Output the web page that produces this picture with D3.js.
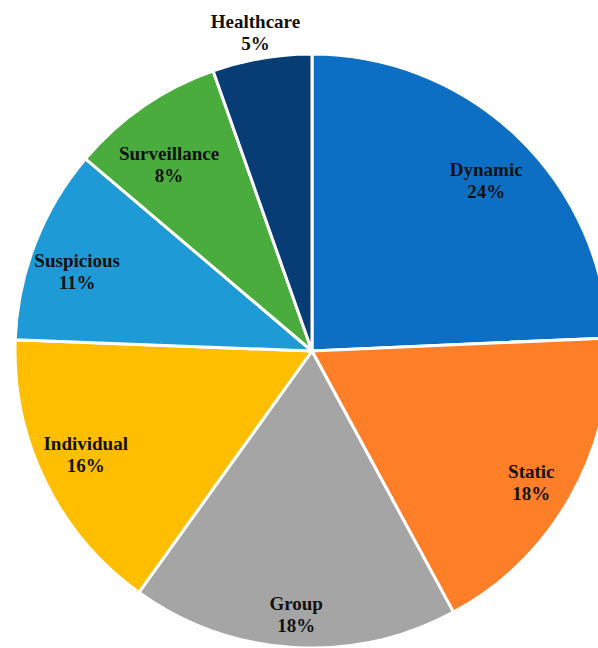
<!DOCTYPE html>
<html><head><meta charset="utf-8">
<script src="https://cdn.jsdelivr.net/npm/d3@7"></script>
<style>body{margin:0;background:#fff}</style>
</head><body>
<svg id="c" width="598" height="648"></svg>
<script>
const categories = ["Dynamic","Static","Group","Individual","Suspicious","Surveillance","Healthcare"];
const values = [24.3,17.8,17.8,15.7,10.6,8.4,5.4];
const colors = ["#0D6FC3","#FE7F27","#A5A5A5","#FFBE00","#1E9AD6","#4AAC3C","#083C74"];

const svg = d3.select("#c");
const cx = 312, cy = 351, R = 297;
const g = svg.append("g").attr("transform", `translate(${cx},${cy})`);
const pie = d3.pie().sort(null).value(d => d.v);
const data = pie(categories.map((c,i)=>({c, v: values[i], col: colors[i]})));
const arc = d3.arc().innerRadius(0).outerRadius(R);
g.selectAll("path").data(data).join("path")
  .attr("d", arc).attr("fill", d => d.data.col)
  .attr("stroke", "#fff").attr("stroke-width", 3).attr("stroke-linejoin","round");

// label layout (manual vertical nudges like the original chart's hand-placed labels)
const nudge = {Individual: -19, Surveillance: 10, Static: -4};
const inLabel = d3.arc().innerRadius(252).outerRadius(252);
const outLabel = d3.arc().innerRadius(335).outerRadius(335);
const lab = g.selectAll("g.l").data(data).join("g").attr("class","l")
  .attr("transform", d => { const p = (d.data.v < 6 ? outLabel : inLabel).centroid(d); return `translate(${p[0]},${p[1] + 12 + (nudge[d.data.c] || 0)})`; });
const font = t => t.attr("text-anchor","middle")
  .style("font-family","'Liberation Serif','Times New Roman',serif").style("font-weight","bold").style("font-size","19px")
  .attr("fill","#111");
lab.append("text").attr("y",-5).call(font).text(d => d.data.c);
lab.append("text").attr("y",17).call(font).text(d => Math.round(d.data.v) + "%");
</script>
</body></html>
